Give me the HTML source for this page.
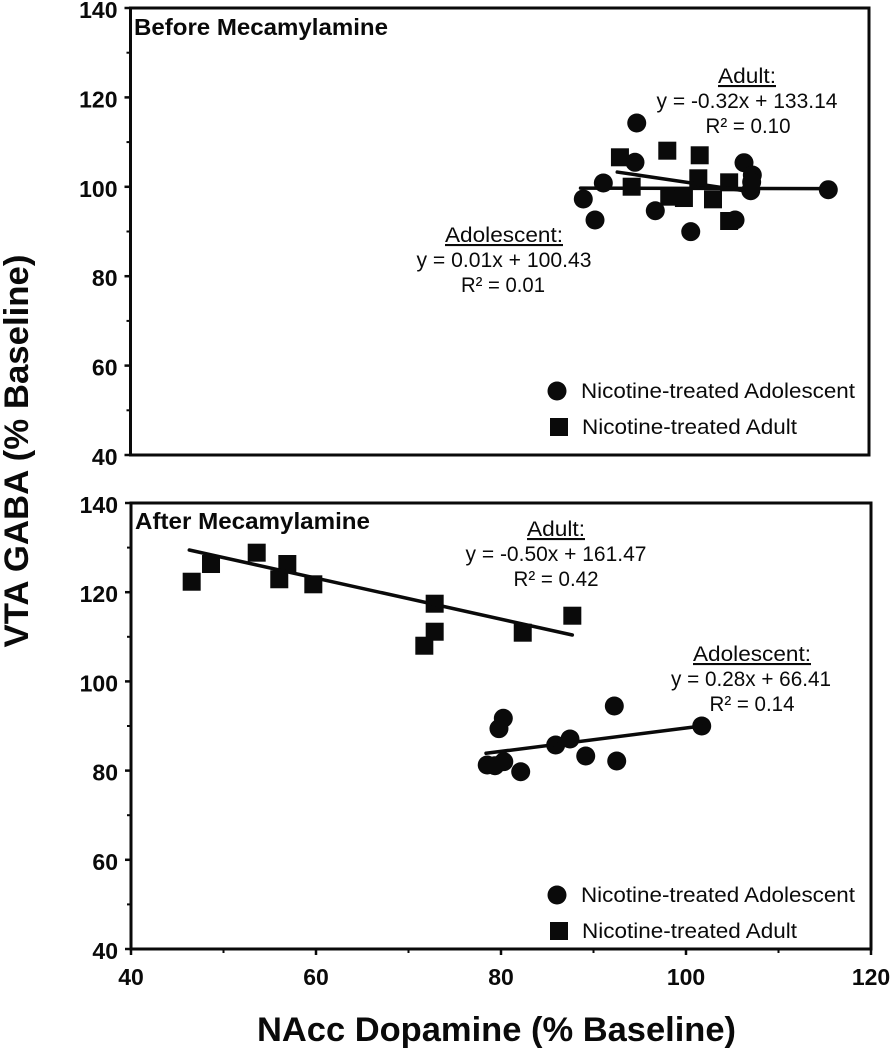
<!DOCTYPE html>
<html>
<head>
<meta charset="utf-8">
<title>VTA GABA vs NAcc Dopamine</title>
<style>
html,body{margin:0;padding:0;background:#fff}
svg{display:block;filter:blur(0.35px)}
text{font-family:"Liberation Sans",Arial,sans-serif;fill:#0a0a0a}
.b{font-weight:bold}
</style>
</head>
<body>
<svg id="chart" xmlns="http://www.w3.org/2000/svg" width="891" height="1050" viewBox="0 0 891 1050">
  <rect x="0" y="0" width="891" height="1050" fill="#fff"/>
  <g id="top"></g>
  <g id="bottom"></g>

  <text class="b" font-size="34" text-anchor="middle" textLength="393" lengthAdjust="spacingAndGlyphs" transform="translate(28,451) rotate(-90)">VTA GABA (% Baseline)</text>
  <text class="b" font-size="34" x="257" y="1041" textLength="479" lengthAdjust="spacingAndGlyphs">NAcc Dopamine (% Baseline)</text>

  <text class="b" font-size="23" x="134" y="35" textLength="254" lengthAdjust="spacingAndGlyphs">Before Mecamylamine</text>
  <text class="b" font-size="23" x="135" y="529" textLength="235" lengthAdjust="spacingAndGlyphs">After Mecamylamine</text>

  <g font-size="21" text-anchor="middle">
    <text x="747" y="83" text-decoration="underline" textLength="58" lengthAdjust="spacingAndGlyphs">Adult:</text>
    <text x="747" y="108" textLength="181" lengthAdjust="spacingAndGlyphs">y = -0.32x + 133.14</text>
    <text x="748" y="133" textLength="85" lengthAdjust="spacingAndGlyphs">R² = 0.10</text>
    <text x="504" y="242" text-decoration="underline" textLength="118" lengthAdjust="spacingAndGlyphs">Adolescent:</text>
    <text x="504" y="267" textLength="175" lengthAdjust="spacingAndGlyphs">y = 0.01x + 100.43</text>
    <text x="503" y="292" textLength="84" lengthAdjust="spacingAndGlyphs">R² = 0.01</text>
    <text x="556" y="536" text-decoration="underline" textLength="58" lengthAdjust="spacingAndGlyphs">Adult:</text>
    <text x="556" y="561" textLength="181" lengthAdjust="spacingAndGlyphs">y = -0.50x + 161.47</text>
    <text x="556" y="586" textLength="85" lengthAdjust="spacingAndGlyphs">R² = 0.42</text>
    <text x="752" y="661" text-decoration="underline" textLength="118" lengthAdjust="spacingAndGlyphs">Adolescent:</text>
    <text x="751" y="686" textLength="160" lengthAdjust="spacingAndGlyphs">y = 0.28x + 66.41</text>
    <text x="752" y="711" textLength="85" lengthAdjust="spacingAndGlyphs">R² = 0.14</text>
  </g>

  <g font-size="21">
    <circle cx="557" cy="391" r="9.5" fill="#0a0a0a"/>
    <text x="581" y="398" textLength="274" lengthAdjust="spacingAndGlyphs">Nicotine-treated Adolescent</text>
    <rect x="550" y="418" width="18" height="18" fill="#0a0a0a"/>
    <text x="582" y="434" textLength="215" lengthAdjust="spacingAndGlyphs">Nicotine-treated Adult</text>
  </g>
  <g font-size="21">
    <circle cx="557" cy="895" r="9.5" fill="#0a0a0a"/>
    <text x="581" y="902" textLength="274" lengthAdjust="spacingAndGlyphs">Nicotine-treated Adolescent</text>
    <rect x="550" y="922" width="18" height="18" fill="#0a0a0a"/>
    <text x="582" y="938" textLength="215" lengthAdjust="spacingAndGlyphs">Nicotine-treated Adult</text>
  </g>
</svg>
<script>
// Shared axis tick values
var yTicks = [40, 60, 80, 100, 120, 140];
var yMinorTicks = [50, 70, 90, 110, 130];
var xTicks = [40, 60, 80, 100, 120];
var xMinorTicks = [50, 70, 90, 110];

// Before mecamylamine
var beforeAdolescentX = [94.84, 94.65, 91.22, 89.05, 90.32, 96.85, 100.69, 105.49, 106.46, 107.36, 107.29, 107.19, 115.59];
var beforeAdolescentY = [114.27, 105.48, 100.85, 97.27, 92.57, 94.65, 89.96, 92.57, 105.39, 102.64, 101.07, 99.13, 99.35];
var beforeAdultX = [93.02, 98.15, 101.66, 101.51, 104.85, 94.29, 98.36, 99.95, 103.1, 104.85];
var beforeAdultY = [106.6, 108.08, 107.05, 101.9, 101.0, 100.02, 97.79, 97.49, 97.2, 92.35];
var beforeAdolescentFitX = [88.75, 115.61];
var beforeAdolescentFitY = [99.7, 99.6];
var beforeAdultFitX = [92.73, 106.39];
var beforeAdultFitY = [103.3, 99.13];

// After mecamylamine
var afterAdolescentX = [80.25, 79.78, 92.25, 101.7, 85.91, 87.46, 89.16, 92.51, 82.13, 80.3, 79.35, 78.51];
var afterAdolescentY = [91.73, 89.4, 94.48, 90.0, 85.74, 87.09, 83.27, 82.15, 79.75, 82.0, 81.1, 81.26];
var afterAdultX = [46.56, 48.65, 53.59, 56.03, 56.9, 59.71, 72.83, 72.83, 71.71, 82.35, 87.71];
var afterAdultY = [122.35, 126.32, 128.86, 122.9, 126.32, 121.77, 117.42, 111.14, 108.0, 110.92, 114.73];
var afterAdolescentFitX = [78.38, 101.7];
var afterAdolescentFitY = [83.88, 90.0];
var afterAdultFitX = [46.3, 87.71];
var afterAdultFitY = [129.46, 110.4];

var SVGNS = 'http://www.w3.org/2000/svg';
var INK = '#0a0a0a';

function make(parent, tag, attrs) {
  var el = document.createElementNS(SVGNS, tag);
  for (var k in attrs) el.setAttribute(k, attrs[k]);
  parent.appendChild(el);
  return el;
}

function drawPanel(groupId, left, right, top, bottom, showXAxis, s) {
  var g = document.getElementById(groupId);
  function xScale(v) { return left + (v - 40) / 80 * (right - left); }
  function yScale(v) { return bottom - (v - 40) / 100 * (bottom - top); }

  var frame = make(g, 'rect', {x: left, y: top, width: right - left, height: bottom - top, fill: 'none', stroke: INK, 'stroke-width': 3});
  
  

  yTicks.forEach(function (t) {
    var y = yScale(t);
    var tick = make(g, 'line', {x1: left - 6, x2: left, y1: y, y2: y, stroke: INK, 'stroke-width': 2.5});
    
    
    var label = make(g, 'text', {x: left - 13, y: y + 10, 'text-anchor': 'end', 'font-size': 23, 'class': 'b'});
    
    
    label.textContent = t;
  });
  yMinorTicks.forEach(function (t) {
    var y = yScale(t);
    var tick = make(g, 'line', {x1: left - 4, x2: left, y1: y, y2: y, stroke: INK, 'stroke-width': 2});
    
    
  });

  if (showXAxis) {
    xTicks.forEach(function (t) {
      var x = xScale(t);
      var tick = make(g, 'line', {x1: x, x2: x, y1: bottom, y2: bottom + 6, stroke: INK, 'stroke-width': 2.5});
      
      
      var label = make(g, 'text', {x: x, y: bottom + 36, 'text-anchor': 'middle', 'font-size': 23, 'class': 'b'});
      
      
      label.textContent = t;
    });
    xMinorTicks.forEach(function (t) {
      var x = xScale(t);
      var tick = make(g, 'line', {x1: x, x2: x, y1: bottom, y2: bottom + 4, stroke: INK, 'stroke-width': 2});
      
      
    });
  }

  s.adultX.forEach(function (v, i) {
    var m = make(g, 'rect', {x: xScale(v) - 9, y: yScale(s.adultY[i]) - 9, width: 18, height: 18, fill: INK});
    
    
  });
  s.adolX.forEach(function (v, i) {
    var m = make(g, 'circle', {cx: xScale(v), cy: yScale(s.adolY[i]), r: 9.5, fill: INK});
    
    
  });

  var fitA = make(g, 'line', {x1: xScale(s.adolFitX[0]), y1: yScale(s.adolFitY[0]), x2: xScale(s.adolFitX[1]), y2: yScale(s.adolFitY[1]), stroke: INK, 'stroke-width': 3.5, 'stroke-linecap': 'round'});
  
  
  var fitB = make(g, 'line', {x1: xScale(s.adultFitX[0]), y1: yScale(s.adultFitY[0]), x2: xScale(s.adultFitX[1]), y2: yScale(s.adultFitY[1]), stroke: INK, 'stroke-width': 3.5, 'stroke-linecap': 'round'});
  
  
}

drawPanel('top', 130.5, 869, 8, 455, false, {
  adolX: beforeAdolescentX, adolY: beforeAdolescentY,
  adultX: beforeAdultX, adultY: beforeAdultY,
  adolFitX: beforeAdolescentFitX, adolFitY: beforeAdolescentFitY,
  adultFitX: beforeAdultFitX, adultFitY: beforeAdultFitY
});
drawPanel('bottom', 131, 871, 503, 949, true, {
  adolX: afterAdolescentX, adolY: afterAdolescentY,
  adultX: afterAdultX, adultY: afterAdultY,
  adolFitX: afterAdolescentFitX, adolFitY: afterAdolescentFitY,
  adultFitX: afterAdultFitX, adultFitY: afterAdultFitY
});
</script>
</body>
</html>
